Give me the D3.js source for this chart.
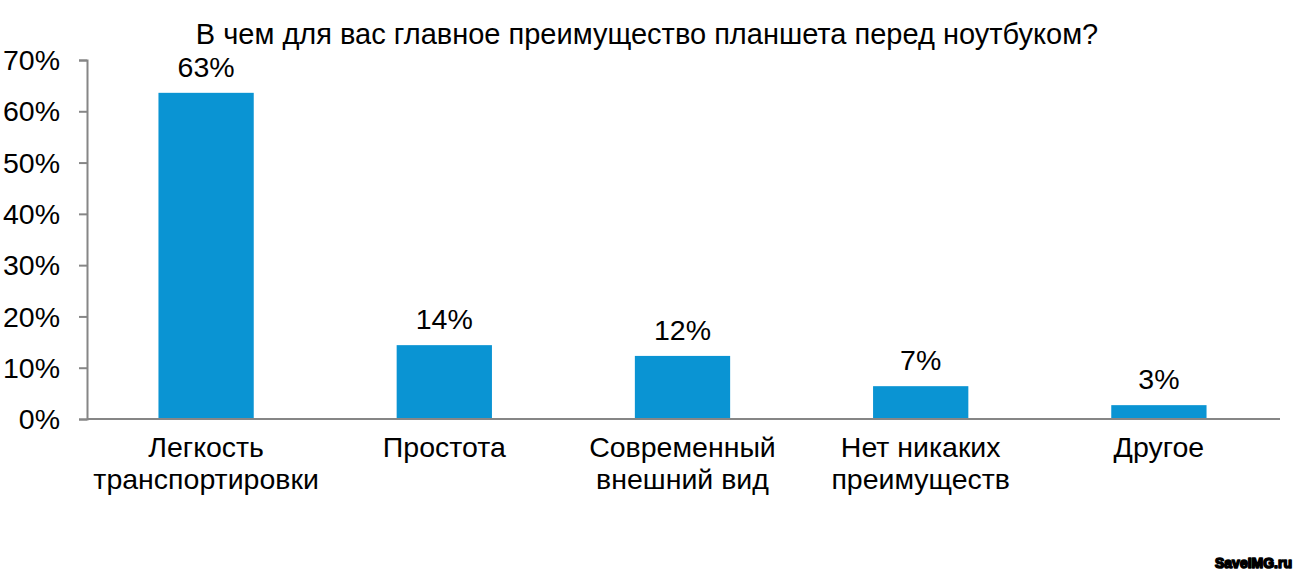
<!DOCTYPE html>
<html><head><meta charset="utf-8">
<script src="https://cdn.jsdelivr.net/npm/d3@7"></script>
<style>body{margin:0;background:#fff}svg{display:block}text{font-family:"Liberation Sans",Arial,sans-serif;fill:#000}</style>
</head><body>
<script>
const title = "В чем для вас главное преимущество планшета перед ноутбуком?";
const categories = [["Легкость","транспортировки"],["Простота"],["Современный","внешний вид"],["Нет никаких","преимуществ"],["Другое"]];
const values = [0.636, 0.144, 0.123, 0.064, 0.027];
const valueLabels = ["63%","14%","12%","7%","3%"];
const yTicks = [0,0.1,0.2,0.3,0.4,0.5,0.6,0.7];

const W=1297,H=571;
const svg=d3.select("body").append("svg").attr("width",W).attr("height",H);
const x=d3.scaleBand().domain(d3.range(categories.length)).range([87,1278]).paddingInner(0.6).paddingOuter(0.3);
const y=d3.scaleLinear().domain([0,0.7]).range([419,60]);

svg.append("text").attr("x",647).attr("y",44).attr("text-anchor","middle").style("font-size","29px").text(title);

const ya=svg.append("g").attr("transform","translate(87,0)").call(d3.axisLeft(y).tickValues(yTicks).tickFormat(d3.format(".0%")).tickSize(8).tickPadding(19));
ya.select(".domain").attr("stroke","#868686").attr("stroke-width",2);
ya.selectAll(".tick line").attr("stroke","#868686").attr("stroke-width",2);
ya.selectAll(".tick text").style("font-size","28.5px").attr("font-family",null).attr("fill","#000").attr("dy","0.34em");

svg.selectAll("rect.bar").data(values).join("rect").attr("class","bar")
  .attr("x",(d,i)=>x(i)).attr("width",x.bandwidth()).attr("y",d=>y(d)).attr("height",d=>y(0)-y(d)).attr("fill","#0a94d3");

svg.append("line").attr("x1",87).attr("x2",1280).attr("y1",y(0)).attr("y2",y(0)).attr("stroke","#868686").attr("stroke-width",2);

svg.selectAll("text.vl").data(values).join("text").attr("class","vl")
  .attr("x",(d,i)=>x(i)+x.bandwidth()/2).attr("y",d=>y(d)-16).attr("text-anchor","middle").style("font-size","28.5px")
  .text((d,i)=>valueLabels[i]);

categories.forEach((lines,i)=>{
  const t=svg.append("text").attr("text-anchor","middle").style("font-size","28.5px");
  lines.forEach((l,j)=>t.append("tspan").attr("x",x(i)+x.bandwidth()/2).attr("y",457+j*32).text(l));
});

svg.append("text").attr("x",1292).attr("y",568).attr("text-anchor","end")
  .style("font-size","14px").style("font-weight","bold").attr("fill","#fff").attr("stroke","#000").attr("stroke-width",1.6).attr("stroke-linejoin","round").attr("paint-order","stroke").text("SaveIMG.ru");
</script>
</body></html>
